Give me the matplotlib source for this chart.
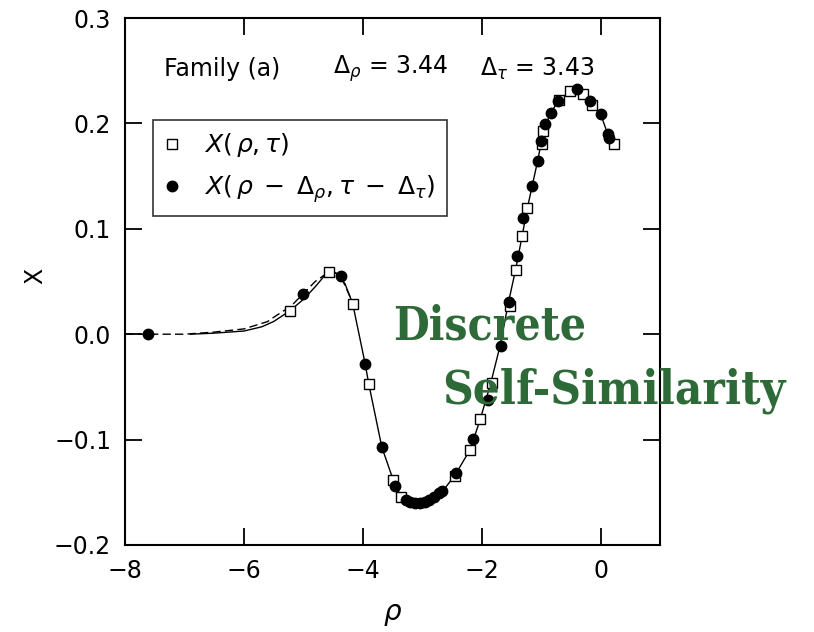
import numpy as np
import matplotlib
matplotlib.use("Agg")
import matplotlib.pyplot as plt

plt.rcParams['mathtext.fontset'] = 'dejavusans'

# solid curve: X(rho, tau)
curve_x = [-6.9, -6.5, -6.0, -5.7, -5.5, -5.23, -5.0, -4.8, -4.65, -4.55, -4.45,
           -4.3, -4.17, -3.96, -3.90, -3.68, -3.49, -3.36, -3.2, -3.05, -2.9, -2.7,
           -2.45, -2.19, -2.02, -1.85, -1.69, -1.55, -1.43, -1.32, -1.23, -1.06,
           -0.96, -0.84, -0.71, -0.51, -0.40, -0.29, -0.17, 0.0, 0.12, 0.2]
curve_y = [0.0, 0.001, 0.003, 0.007, 0.012, 0.022, 0.033, 0.045, 0.055, 0.059, 0.058,
           0.048, 0.029, -0.028, -0.047, -0.107, -0.138, -0.154, -0.159, -0.160, -0.159, -0.152,
           -0.134, -0.109, -0.080, -0.047, -0.011, 0.030, 0.061, 0.093, 0.120, 0.164,
           0.193, 0.210, 0.221, 0.231, 0.232, 0.228, 0.221, 0.209, 0.190, 0.180]

# dashed curve: shifted copy X(rho - d_rho, tau - d_tau)
shift_x = [-8.0, -7.62, -7.0, -6.5, -6.0, -5.6, -5.5, -5.2, -5.01, -4.8, -4.6,
           -4.45, -4.37, -4.17]
shift_y = [0.0, 0.0, 0.0, 0.002, 0.005, 0.012, 0.016, 0.027, 0.038, 0.050, 0.058,
           0.058, 0.055, 0.030]

sq_x = [-5.23, -4.57, -4.17, -3.90, -3.49, -3.36, -2.45, -2.19, -2.02, -1.83,
        -1.53, -1.43, -1.32, -1.23, -0.99, -0.96, -0.70, -0.51, -0.29, -0.15, 0.22]
sq_y = [0.022, 0.059, 0.029, -0.047, -0.138, -0.154, -0.135, -0.110, -0.080, -0.046,
        0.027, 0.061, 0.093, 0.120, 0.180, 0.193, 0.222, 0.231, 0.228, 0.217, 0.180]

dot_x = [-7.62, -5.01, -4.37, -3.96, -3.68, -3.46, -3.28, -3.20, -3.12, -3.04, -2.96,
         -2.88, -2.80, -2.72, -2.66, -2.43, -2.14, -1.89, -1.68, -1.54, -1.40, -1.30,
         -1.16, -1.06, -1.00, -0.93, -0.84, -0.71, -0.40, -0.17, 0.0, 0.12, 0.15]
dot_y = [0.0, 0.038, 0.055, -0.028, -0.107, -0.144, -0.157, -0.159, -0.160, -0.160, -0.159,
         -0.157, -0.154, -0.151, -0.149, -0.132, -0.099, -0.062, -0.011, 0.031, 0.074, 0.110,
         0.141, 0.164, 0.183, 0.199, 0.210, 0.221, 0.233, 0.221, 0.209, 0.190, 0.186]

fig = plt.figure(figsize=(8.14, 6.32), dpi=100)
ax = fig.add_axes([125/814, 1 - 545/632, 535/814, 527/632])

ax.plot(curve_x, curve_y, color='black', lw=1.0, zorder=2)
ax.plot(shift_x, shift_y, color='black', lw=1.0, dashes=(6, 3), zorder=2)
sq, = ax.plot(sq_x, sq_y, 's', ms=6.5, mfc='white', mec='black', mew=1.0, ls='none', zorder=3)
dot, = ax.plot(dot_x, dot_y, 'o', ms=7.5, color='black', ls='none', zorder=3)

ax.set_xlim(-8, 1)
ax.set_ylim(-0.2, 0.3)
ax.set_xticks([-8, -6, -4, -2, 0])
ax.set_xticklabels(['\u22128', '\u22126', '\u22124', '\u22122', '0'])
ax.set_yticks([-0.2, -0.1, 0.0, 0.1, 0.2, 0.3])
ax.set_yticklabels(['\u22120.2', '\u22120.1', '0.0', '0.1', '0.2', '0.3'])
ax.tick_params(direction='in', length=12, width=1.3, labelsize=17,
               top=True, right=True, pad=10)
for s in ax.spines.values():
    s.set_linewidth(1.5)

ax.set_xlabel(r'$\rho$', fontsize=20, labelpad=12)
ax.set_ylabel('X', fontsize=17)
ax.yaxis.set_label_coords(-0.145, 0.51)

ax.text(-7.34, 0.252, 'Family (a)', fontsize=17, va='center')
ax.text(-4.5, 0.252, r'$\Delta_\rho$ = 3.44', fontsize=17, va='center')
ax.text(-2.02, 0.252, r'$\Delta_\tau$ = 3.43', fontsize=17, va='center')

leg = ax.legend([sq, dot], [r'$X(\,\rho,\tau)$', r'$X(\,\rho\;-\;\Delta_\rho,\tau\;-\;\Delta_\tau)$'],
                loc='upper left', bbox_to_anchor=(28/535, 425/527), borderaxespad=0,
                fontsize=18, frameon=True, fancybox=False, edgecolor='black',
                handlelength=0.6, handletextpad=1.0, borderpad=0.45, labelspacing=0.55)
leg.get_frame().set_linewidth(1.2)

green = '#2d6a37'
fig.text(393/814, 1 - 339/632, 'Discrete', fontsize=33, fontweight='bold',
         family='DejaVu Serif', fontstretch='condensed', color=green, va='baseline')
fig.text(442/814, 1 - 404/632, 'Self-Similarity', fontsize=34, fontweight='bold',
         family='DejaVu Serif', fontstretch='condensed', color=green, va='baseline')

fig.savefig('out.png', dpi=100)
